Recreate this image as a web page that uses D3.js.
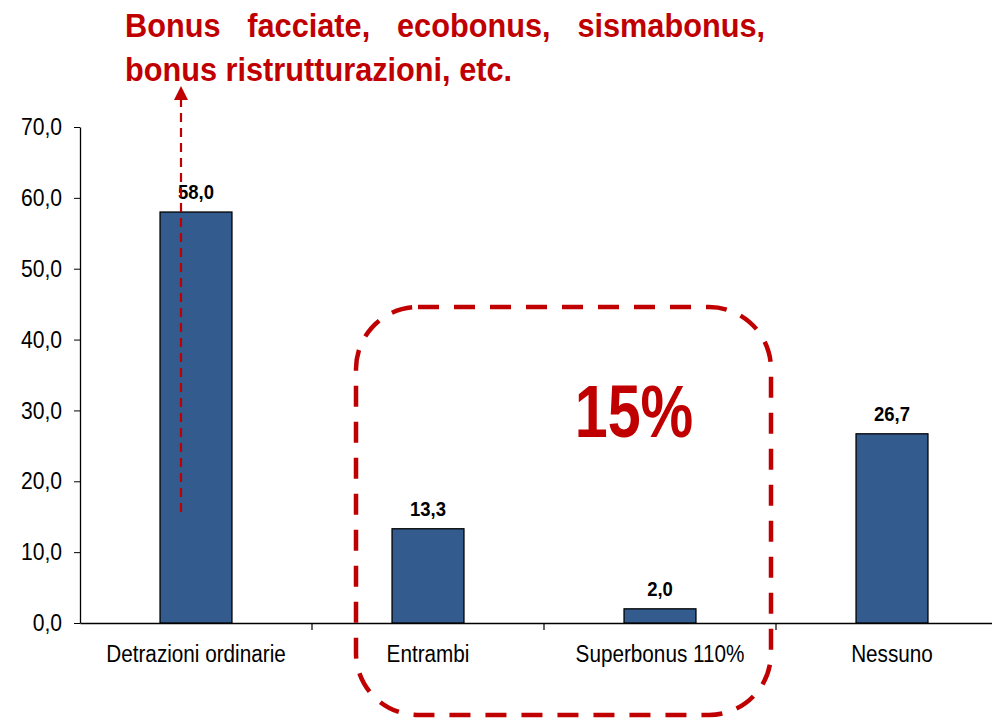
<!DOCTYPE html>
<html>
<head>
<meta charset="utf-8">
<script src="https://cdn.jsdelivr.net/npm/d3@7"></script>
<style>
  body { margin: 0; background: #fff; }
  svg text { font-family: "Liberation Sans", Arial, sans-serif; }
</style>
</head>
<body>
<svg class="chart" width="992" height="718"></svg>
<script>
const categories = ['Detrazioni ordinarie', 'Entrambi', 'Superbonus 110%', 'Nessuno'];
const values = [58.0, 13.3, 2.0, 26.7];
const yTicks = [0, 10, 20, 30, 40, 50, 60, 70];
const noteLines = [['Bonus', 'facciate,', 'ecobonus,', 'sismabonus,'], ['bonus ristrutturazioni, etc.']];
const bigLabel = '15%';

const red = '#c00000';
const fmt = v => d3.format('.1f')(v).replace('.', ',');

// squeeze text to look like a narrow font
function narrow(sel, k) {
  sel.each(function () {
    const w = this.getComputedTextLength();
    d3.select(this).attr('textLength', w * k).attr('lengthAdjust', 'spacingAndGlyphs');
  });
}

const svg = d3.select('.chart');
const x = d3.scaleBand().domain(categories).range([80, 1008]);
const y = d3.scaleLinear().domain([0, 70]).range([623, 127]);
const barW = x.bandwidth() * 0.31;

// y axis
const yAxis = svg.append('g')
  .attr('transform', 'translate(80,0)')
  .call(d3.axisLeft(y).tickValues(yTicks).tickSize(6).tickSizeOuter(0).tickFormat(fmt));
yAxis.select('.domain').attr('stroke', '#000').attr('stroke-width', 1.3);
yAxis.selectAll('line').attr('stroke', '#000');
yAxis.selectAll('text').attr('font-size', 24).attr('fill', '#000').attr('x', -18)
  .style('font-family', '"Liberation Sans", Arial, sans-serif')
  .call(narrow, 0.88);

// x axis
const xAxis = svg.append('g')
  .attr('transform', 'translate(0,623)')
  .call(d3.axisBottom(x).tickSize(0).tickSizeOuter(0));
xAxis.select('.domain').attr('stroke', '#000').attr('stroke-width', 1.3);
xAxis.selectAll('text').attr('font-size', 23).attr('fill', '#000').attr('y', 23)
  .style('font-family', '"Liberation Sans", Arial, sans-serif')
  .call(narrow, 0.9);
// category separators
svg.append('g').selectAll('line')
  .data(categories.slice(1))
  .join('line')
  .attr('x1', d => x(d)).attr('x2', d => x(d))
  .attr('y1', 623).attr('y2', 630)
  .attr('stroke', '#000').attr('stroke-width', 1.2);

// bars
svg.append('g').selectAll('rect')
  .data(categories)
  .join('rect')
  .attr('x', d => x(d) + x.bandwidth() / 2 - barW / 2)
  .attr('y', (d, i) => y(values[i]))
  .attr('width', barW)
  .attr('height', (d, i) => y(0) - y(values[i]))
  .attr('fill', '#335b8e')
  .attr('stroke', '#000')
  .attr('stroke-width', 1.3);

// value labels
svg.append('g').selectAll('text')
  .data(categories)
  .join('text')
  .attr('x', d => x(d) + x.bandwidth() / 2)
  .attr('y', (d, i) => y(values[i]) - 13)
  .attr('text-anchor', 'middle')
  .attr('font-size', 21)
  .attr('font-weight', 'bold')
  .text((d, i) => fmt(values[i]))
  .call(narrow, 0.88);

// dashed rounded box around Entrambi + Superbonus
svg.append('rect')
  .attr('x', 356).attr('y', 307)
  .attr('width', 415).attr('height', 408)
  .attr('rx', 62).attr('ry', 62)
  .attr('fill', 'none')
  .attr('stroke', red)
  .attr('stroke-width', 4.5)
  .attr('stroke-dasharray', '21,15');

svg.append('text')
  .attr('x', 634).attr('y', 437)
  .attr('text-anchor', 'middle')
  .attr('font-size', 75)
  .attr('font-weight', 'bold')
  .attr('fill', red)
  .text(bigLabel)
  .call(narrow, 0.79);

// arrow from first bar to note
const ax = x(categories[0]) + x.bandwidth() / 2 - 15;
svg.append('line')
  .attr('x1', ax).attr('x2', ax)
  .attr('y1', 512).attr('y2', 100)
  .attr('stroke', red)
  .attr('stroke-width', 2.2)
  .attr('stroke-dasharray', '9,6');
svg.append('path')
  .attr('d', `M${ax - 7},100 L${ax + 7},100 L${ax},86 Z`)
  .attr('fill', red);

// note text, first line justified
const note = svg.append('g').attr('fill', red).attr('font-weight', 'bold').attr('font-size', 33);
const left = 125, right = 765;
const words = note.selectAll('text.w')
  .data(noteLines[0])
  .join('text')
  .attr('class', 'w')
  .attr('y', 37)
  .text(d => d)
  .call(narrow, 0.93);
const widths = [];
words.each(function () { widths.push(+this.getAttribute('textLength')); });
const gap = (right - left - d3.sum(widths)) / (widths.length - 1);
let cx = left;
words.attr('x', (d, i) => { const p = cx; cx += widths[i] + gap; return p; });
note.append('text').attr('x', left).attr('y', 81).text(noteLines[1][0]).call(narrow, 0.93);
</script>
</body>
</html>
